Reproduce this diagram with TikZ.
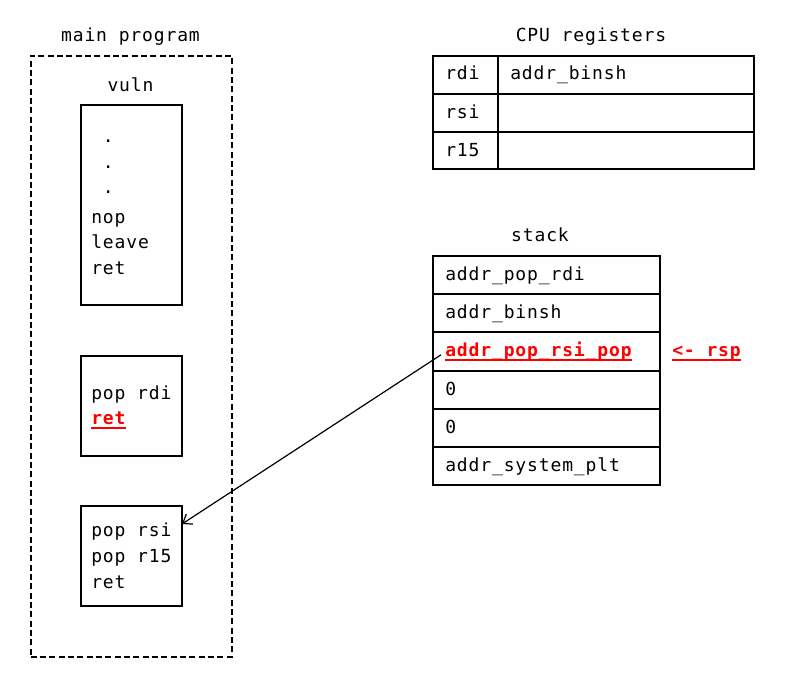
\documentclass[tikz,border=0pt]{standalone}
\usepackage{fontspec}
\setmonofont{DejaVu Sans Mono}[LetterSpace=4.8]
\usetikzlibrary{arrows.meta}
\newlength{\du}
\setlength{\du}{0.75pt}
\definecolor{ropred}{rgb}{1.000000, 0.000000, 0.000000}
\newcommand{\ulred}[1]{{\color{ropred}\bfseries\setbox0\hbox{#1}\rlap{\rule[-3pt]{\wd0}{1.3pt}}\box0}}

\begin{document}
\begin{tikzpicture}[
  codetext/.style={font=\ttfamily\fontsize{13.5}{16}\selectfont, inner sep=0pt, anchor=base west},
  labeltext/.style={font=\ttfamily\fontsize{13.5}{16}\selectfont, inner sep=0pt, anchor=base},
  codebox/.style={draw, line width=1.2pt, minimum width=101\du, minimum height=100\du, inner sep=0pt, anchor=north west},
  cell/.style={draw, line width=1.2pt, inner sep=0pt, anchor=north west},
]
\pgftransformxscale{1.000000}
\pgftransformyscale{-1.000000}
\useasboundingbox (0\du,0\du) rectangle (800\du,691\du);
% main program
\node[labeltext] (mainlabel) at (130.5\du,42\du) {main program};
\node[draw, line width=1.2pt, dash pattern=on 4.5pt off 2.5pt, minimum width=201\du, minimum height=601\du, inner sep=0pt, anchor=north west] (mainprog) at (30\du,55\du) {};
\node[labeltext] (vulnlabel) at (130.5\du,92\du) {vuln};
\node[codebox, minimum height=200\du] (vuln) at (80\du,104\du) {};
\node[codetext] (dot1) at (102.5\du,143\du) {.};
\node[codetext] (dot2) at (102.5\du,168.5\du) {.};
\node[codetext] (dot3) at (102.5\du,194\du) {.};
\node[codetext] (nop) at (91\du,224\du) {nop};
\node[codetext] (leave) at (91\du,249\du) {leave};
\node[codetext] (vulnret) at (91\du,275\du) {ret};
% gadget pop rdi
\node[codebox] (gadget1) at (80\du,355\du) {};
\node[codetext] (poprdi) at (91\du,400\du) {pop rdi};
\node[codetext] (rdiret) at (91\du,425\du) {\ulred{ret}};
% gadget pop rsi; pop r15
\node[codebox] (gadget2) at (80\du,505\du) {};
\node[codetext] (poprsi) at (91\du,537\du) {pop rsi};
\node[codetext] (popr15) at (91\du,562\du) {pop r15};
\node[codetext] (rsiret) at (91\du,588\du) {ret};
% CPU registers
\node[labeltext] (reglabel) at (591\du,42\du) {CPU registers};
\node[cell, minimum width=65\du, minimum height=38\du] (rdicell) at (432\du,55\du) {};
\node[cell, minimum width=256\du, minimum height=38\du] (rdival) at (497\du,55\du) {};
\node[cell, minimum width=65\du, minimum height=38\du] (rsicell) at (432\du,93\du) {};
\node[cell, minimum width=256\du, minimum height=38\du] (rsival) at (497\du,93\du) {};
\node[cell, minimum width=65\du, minimum height=37\du] (r15cell) at (432\du,131\du) {};
\node[cell, minimum width=256\du, minimum height=37\du] (r15val) at (497\du,131\du) {};
\node[codetext] (rditext) at (445\du,80\du) {rdi};
\node[codetext] (rdivaltext) at (510\du,80\du) {addr\_binsh};
\node[codetext] (rsitext) at (445\du,118.5\du) {rsi};
\node[codetext] (r15text) at (445\du,156.5\du) {r15};
% stack
\node[labeltext] (stacklabel) at (540\du,242\du) {stack};
\node[cell, minimum width=227\du, minimum height=38\du] (stack1) at (432\du,255\du) {};
\node[cell, minimum width=227\du, minimum height=38\du] (stack2) at (432\du,293\du) {};
\node[cell, minimum width=227\du, minimum height=39\du] (stack3) at (432\du,331\du) {};
\node[cell, minimum width=227\du, minimum height=38\du] (stack4) at (432\du,370\du) {};
\node[cell, minimum width=227\du, minimum height=38\du] (stack5) at (432\du,408\du) {};
\node[cell, minimum width=227\du, minimum height=38\du] (stack6) at (432\du,446\du) {};
\node[codetext] (poprdiaddr) at (445\du,281\du) {addr\_pop\_rdi};
\node[codetext] (binshaddr) at (445\du,319\du) {addr\_binsh};
\node[codetext, inner xsep=4\du] (rsipop) at (441\du,357\du) {\ulred{addr\_pop\_rsi\_pop}};
\node[codetext] (zero1) at (445\du,396\du) {0};
\node[codetext] (zero2) at (445\du,434\du) {0};
\node[codetext] (systemaddr) at (445\du,472\du) {addr\_system\_plt};
\node[codetext] (rsp) at (672\du,357\du) {\ulred{<- rsp}};
% return into the pop rsi gadget
\coordinate (hit) at (182\du,524\du);
\draw[line width=0.9pt, -{Straight Barb[length=6pt, width=9pt]}] ([yshift=3\du]rsipop.west) -- (hit);
\end{tikzpicture}
\end{document}
